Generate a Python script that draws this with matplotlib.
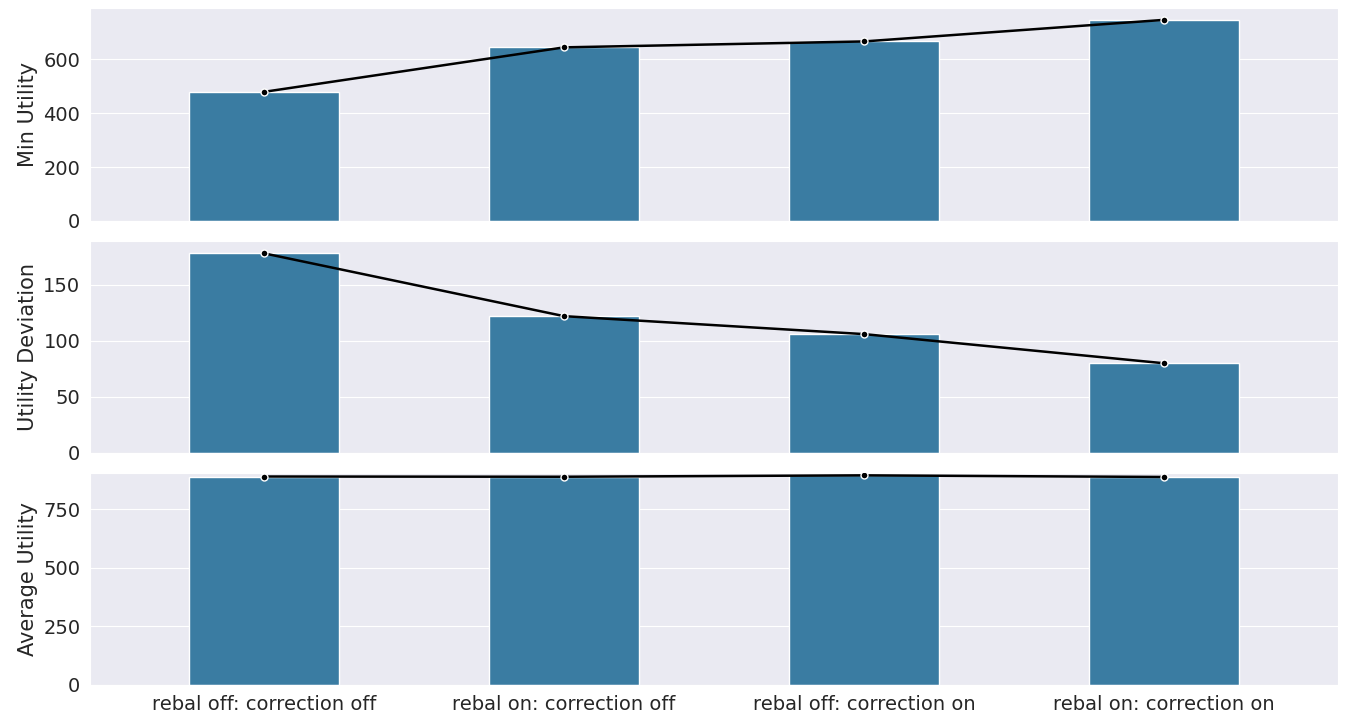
import matplotlib
matplotlib.use("Agg")
import matplotlib.pyplot as plt
import seaborn as sns

sns.set_style("darkgrid")
plt.rcParams['font.family'] = ['DejaVu Sans']

categories = ["rebal off: correction off", "rebal on: correction off",
              "rebal off: correction on", "rebal on: correction on"]
min_utility = [479, 644, 666, 746]
utility_dev = [178, 122, 106, 80]
avg_utility = [890, 889, 895, 888]

series = [("Min Utility", min_utility, [0, 200, 400, 600], 790),
          ("Utility Deviation", utility_dev, [0, 50, 100, 150], 189),
          ("Average Utility", avg_utility, [0, 250, 500, 750], 905)]

fig = plt.figure(figsize=(13.56, 7.28), dpi=100)
W, H = 1356, 728
boxes = [(8, 221), (241, 453), (473, 685)]
x = list(range(len(categories)))
for i, ((name, vals, ticks, top), (t, b)) in enumerate(zip(series, boxes)):
    ax = fig.add_axes([90 / W, 1 - b / H, (1338 - 90) / W, (b - t) / H])
    ax.bar(x, vals, width=0.5, color="#3a7ca2", zorder=2)
    ax.plot(x, vals, color="black", lw=1.8, marker="o", ms=5,
            mfc="black", mec="white", mew=1, zorder=3)
    ax.set_xlim(-0.58, 3.58)
    ax.set_ylim(0, top)
    ax.set_yticks(ticks)
    ax.set_ylabel(name, fontsize=15)
    ax.tick_params(labelsize=14)
    ax.set_xticks(x)
    ax.grid(axis="x", visible=False)
    if i < 2:
        ax.set_xticklabels([])
    else:
        ax.set_xticklabels(categories, fontsize=14)

fig.savefig("out.png", dpi=100)
